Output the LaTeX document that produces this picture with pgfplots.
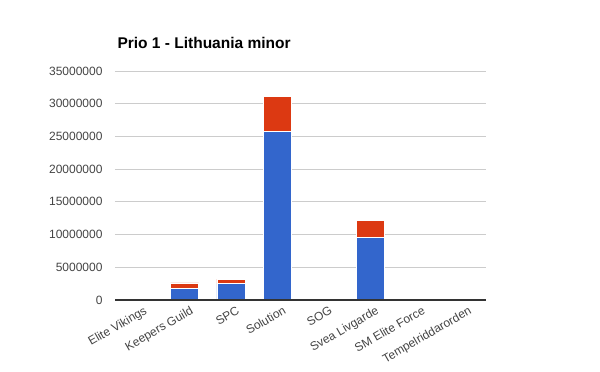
\documentclass[border=0pt]{standalone}
\usepackage{pgfplots}
\pgfplotsset{compat=1.18}
\usepackage{fontspec}
\setmainfont{Liberation Sans}
\definecolor{gblue}{HTML}{3366CC}
\definecolor{gred}{HTML}{DC3912}
\definecolor{ggrid}{HTML}{CCCCCC}
\definecolor{gtext}{HTML}{444444}
\definecolor{gaxis}{HTML}{333333}
\begin{document}
\begin{tikzpicture}
\path[use as bounding box] (-115bp,-72bp) rectangle (485bp,300bp);
\begin{axis}[
  at={(0,0)}, anchor=south west,
  scale only axis,
  width=371bp, height=229bp,
  ybar stacked,
  bar width=28bp,
  xmin=-0.5, xmax=7.5,
  ymin=0, ymax=35000000,
  ytick={0,5000000,10000000,15000000,20000000,25000000,30000000,35000000},
  scaled y ticks=false,
  /pgf/number format/fixed,
  /pgf/number format/1000 sep={},
  /pgf/number format/assume math mode=true,
  xtick={0,...,7},
  xticklabels={Elite Vikings,Keepers Guild,SPC,Solution,SOG,Svea Livgarde,SM Elite Force,Tempelriddarorden},
  ymajorgrids,
  grid style={draw=ggrid, line width=0.8bp},
  axis line style={draw=none},
  major tick length=0pt,
  yticklabel style={font=\fontsize{12bp}{14bp}\selectfont, text=gtext, xshift=-9bp},
  xticklabel style={font=\fontsize{12bp}{14bp}\selectfont, text=gtext, rotate=30, anchor=north east, yshift=-4bp, xshift=5bp},
  title={Prio 1 - Lithuania minor},
  title style={at={(0,1)}, anchor=south west, yshift=13bp, xshift=-1bp, font=\bfseries\fontsize{15.5bp}{18bp}\selectfont},
  clip=false,
]
\addplot[fill=gblue, draw=white, line width=0.8bp] coordinates {(1,1700000) (2,2500000) (3,25800000) (5,9500000)};
\addplot[fill=gred, draw=white, line width=0.8bp] coordinates {(1,900000) (2,700000) (3,5250000) (5,2700000)};
\end{axis}
\draw[gaxis, line width=1.2bp] (0,0) -- (371bp,0);
\end{tikzpicture}
\end{document}
